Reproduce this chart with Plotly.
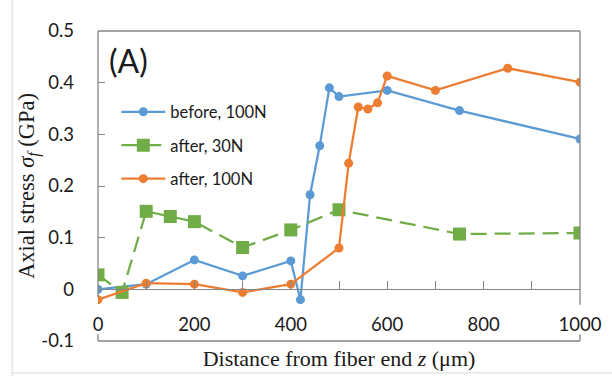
import plotly.graph_objects as go

# ---- data ----
before_x = [0, 100, 200, 300, 400, 420, 440, 460, 480, 500, 600, 750, 1000]
before_y = [0.000, 0.010, 0.057, 0.026, 0.055, -0.020, 0.183, 0.278, 0.390, 0.373, 0.385, 0.346, 0.291]

after30_x = [0, 50, 100, 150, 200, 300, 400, 500, 750, 1000]
after30_y = [0.028, -0.006, 0.151, 0.141, 0.131, 0.081, 0.115, 0.154, 0.107, 0.109]

after100_x = [0, 100, 200, 300, 400, 500, 520, 540, 560, 580, 600, 700, 850, 1000]
after100_y = [-0.020, 0.012, 0.010, -0.006, 0.010, 0.080, 0.244, 0.353, 0.349, 0.361, 0.413, 0.385, 0.428, 0.401]

x_tickvals = [0, 200, 400, 600, 800, 1000]
x_ticktext = ["0", "200", "400", "600", "800", "1000"]
y_tickvals = [-0.1, 0, 0.1, 0.2, 0.3, 0.4, 0.5]
y_ticktext = ["-0.1", "0", "0.1", "0.2", "0.3", "0.4", "0.5"]

names = ["before, 100N", "after, 30N", "after, 100N"]

BLUE = "#5B9BD5"
GREEN = "#70AD47"
ORANGE = "#ED7D31"
GRAY = "#858585"
TXT = "#1a1a1a"

fig = go.Figure()
fig.add_trace(go.Scatter(
    x=before_x, y=before_y, name=names[0], mode="lines+markers", legendgroup="a",
    line=dict(color=BLUE, width=2.25),
    marker=dict(symbol="circle", size=9, color=BLUE)))
fig.add_trace(go.Scatter(
    x=after30_x, y=after30_y, name=names[1], mode="lines+markers", legendgroup="b",
    line=dict(color=GREEN, width=2.25, dash="16px,8px"),
    marker=dict(symbol="square", size=13, color=GREEN)))
fig.add_trace(go.Scatter(
    x=after100_x, y=after100_y, name=names[2], mode="lines+markers", legendgroup="c",
    line=dict(color=ORANGE, width=2.25),
    marker=dict(symbol="circle", size=9, color=ORANGE)))

shapes = []
def seg(x0, x1, y0, y1, xref="paper", yref="y", color=GRAY, width=1.3):
    shapes.append(dict(type="line", xref=xref, yref=yref, x0=x0, x1=x1, y0=y0, y1=y1,
                       line=dict(color=color, width=width), layer="above"))

# plot frame (broken where the x tick labels sit)
seg(0, 1, 1, 1, yref="paper")
seg(0, 1, 0, 0, yref="paper")
seg(0, 0, -0.016, 0.5)
seg(0, 0, -0.1, -0.087)
seg(1, 1, -0.030, 0.5)
seg(1, 1, -0.1, -0.087)
# outer chart border fragments (left and bottom)
shapes.append(dict(type="line", xref="paper", yref="paper", x0=-0.178, x1=-0.178, y0=-0.2, y1=1.2,
                   line=dict(color="#d9d9d9", width=1)))
shapes.append(dict(type="line", xref="paper", yref="paper", x0=-0.178, x1=1.2, y0=-0.103, y1=-0.103,
                   line=dict(color="#d9d9d9", width=1)))

fig.update_layout(
    width=612, height=376,
    margin=dict(l=98, r=32, t=31, b=35),
    paper_bgcolor="white", plot_bgcolor="white",
    font=dict(family="Lato", color=TXT),
    showlegend=True,
    legend=dict(x=0.038, y=0.795, xanchor="left", yanchor="top",
                font=dict(family="Lato", size=16.5, color=TXT),
                bgcolor="rgba(0,0,0,0)", traceorder="grouped", tracegroupgap=9,
                itemwidth=44),
    shapes=shapes,
    annotations=[dict(text="(A)", xref="paper", yref="paper", x=0.018, y=0.975,
                      xanchor="left", yanchor="top", showarrow=False,
                      font=dict(family="Lato", size=32, color=TXT))],
)

fig.update_xaxes(
    range=[0, 1000], anchor="free", position=1/6,
    showline=True, linecolor=GRAY, linewidth=1.3,
    ticks="inside", ticklen=8, tickcolor=GRAY, tickwidth=1.3,
    tickmode="array", tickvals=x_tickvals, ticktext=x_ticktext,
    minor=dict(tickmode="linear", tick0=0, dtick=100, ticks="inside", ticklen=8,
               tickcolor=GRAY, tickwidth=1.3),
    showgrid=False, zeroline=False,
    tickfont=dict(family="Lato", size=18.5, color=TXT),
    ticklabelstandoff=18,
    title=dict(text="Distance from fiber end <i>z</i> (μm)",
               font=dict(family="Liberation Serif", size=22, color=TXT), standoff=16),
    automargin=False,
)
fig.update_yaxes(
    range=[-0.1, 0.5], showline=False,
    ticks="inside", ticklen=7, tickcolor=GRAY, tickwidth=1.3,
    tickmode="array", tickvals=y_tickvals, ticktext=y_ticktext,
    showgrid=False, zeroline=False,
    tickfont=dict(family="Lato", size=18.5, color=TXT),
    ticklabelstandoff=23,
    title=dict(text="Axial stress <i>σ</i><sub><i>f</i></sub> (GPa)",
               font=dict(family="Liberation Serif", size=22.5, color=TXT), standoff=0),
    automargin=False,
)

fig.write_html("out.html")
